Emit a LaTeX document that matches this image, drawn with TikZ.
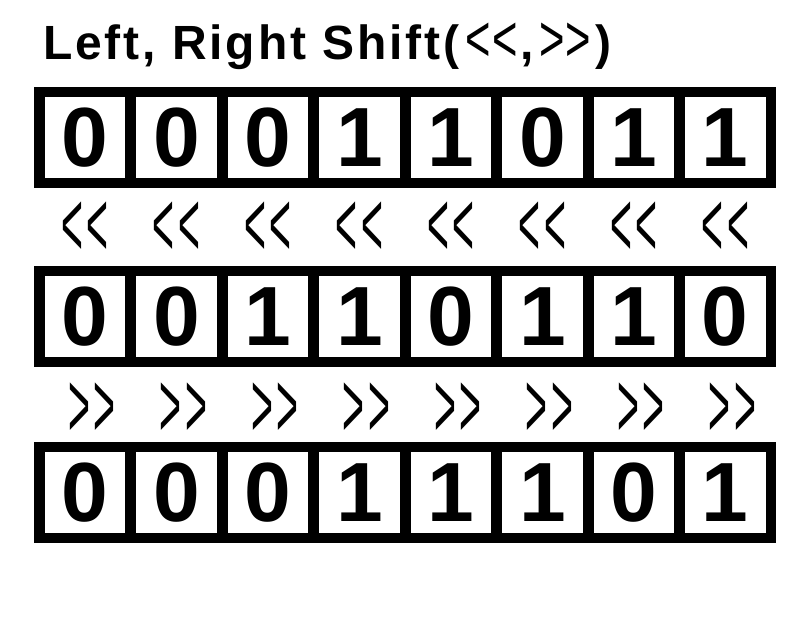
\documentclass[tikz,border=0pt]{standalone}
\usepackage{fontspec}
\setmainfont{Liberation Sans}
\newfontfamily\titlefont[LetterSpace=6]{Liberation Sans}
\newcommand{\tchev}[1]{\raisebox{-2pt}{\fontsize{66}{66}\selectfont\mdseries\scalebox{0.66}[1]{#1}}}
\begin{document}
\begin{tikzpicture}[x=1pt,y=-1pt,
  frame/.style={fill=black, draw=none, minimum width=742pt, minimum height=101pt, inner sep=0pt, anchor=north west},
  cell/.style={fill=white, draw=none, minimum size=80.7pt, inner sep=0pt, font=\fontsize{84}{84}\selectfont\bfseries},
  shiftsym/.style={inner sep=0pt, font=\fontsize{75}{75}\selectfont},
  titletext/.style={anchor=base west, inner sep=0pt, font=\fontsize{48}{48}\selectfont\titlefont\bfseries}
]
\useasboundingbox[fill=white] (0,0) rectangle (800,620);
\node[titletext] (title) at (43,60) {Left, Right Shift(\kern6pt\tchev{<\kern2pt<}\kern3pt,\kern5pt\tchev{>\kern2pt>}\kern4pt)};
\foreach \r/\T/\bits in {1/87/{0,0,0,1,1,0,1,1}, 2/265.5/{0,0,1,1,0,1,1,0}, 3/442/{0,0,0,1,1,1,0,1}}{
  \node[frame] (row\r) at (34,\T) {};
  \foreach \b [count=\i from 0] in \bits {
    \node[cell] (c\r-\i) at (85.05+91.47*\i, \T+50.75) {\b};
  }
}
\foreach \i in {0,...,7}{
  \node[shiftsym] (l\i) at (85.05+91.47*\i, 229) {\scalebox{0.5}[1.25]{<\kern7pt<}};
  \node[shiftsym] (r\i) at (92.05+91.47*\i, 410) {\scalebox{0.5}[1.25]{>\kern7pt>}};
}
\end{tikzpicture}
\end{document}
